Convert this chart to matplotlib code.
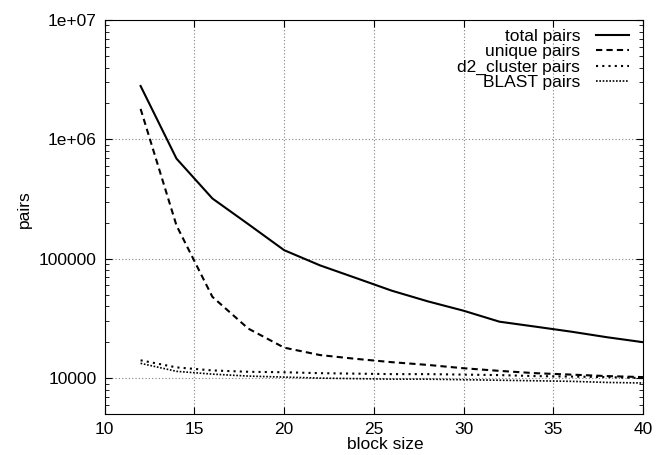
import matplotlib
matplotlib.use("Agg")
import matplotlib.pyplot as plt
from matplotlib.ticker import LogLocator, FixedLocator, NullFormatter

plt.rcParams['font.family'] = ['Liberation Sans', 'DejaVu Sans']
plt.rcParams['font.size'] = 12.5

block_size = [12, 14, 16, 18, 20, 22, 24, 26, 28, 30, 32, 34, 36, 38, 40]
total_pairs = [2.8e6, 6.9e5, 3.2e5, 1.95e5, 1.18e5, 8.8e4, 6.9e4, 5.4e4, 4.4e4,
               3.67e4, 2.97e4, 2.7e4, 2.45e4, 2.2e4, 2.0e4]
unique_pairs = [1.8e6, 1.9e5, 4.8e4, 2.6e4, 1.8e4, 1.56e4, 1.45e4, 1.36e4, 1.29e4,
                1.21e4, 1.15e4, 1.1e4, 1.07e4, 1.04e4, 1.02e4]
d2_pairs = [1.41e4, 1.23e4, 1.16e4, 1.13e4, 1.12e4, 1.1e4, 1.09e4, 1.08e4, 1.08e4,
            1.07e4, 1.06e4, 1.04e4, 1.03e4, 1.02e4, 1.0e4]
blast_pairs = [1.33e4, 1.14e4, 1.08e4, 1.04e4, 1.02e4, 1.0e4, 0.99e4, 0.98e4, 0.98e4,
               0.97e4, 0.96e4, 0.95e4, 0.94e4, 0.92e4, 0.91e4]

fig = plt.figure(figsize=(6.67, 4.55), dpi=100)
ax = fig.add_axes([0.157, 0.09, 0.807, 0.866])

ax.plot(block_size, total_pairs, color="black", lw=1.5, ls="-", label="total pairs")
ax.plot(block_size, unique_pairs, color="black", lw=1.5, ls=(0, (3, 2)), label="unique pairs")
ax.plot(block_size, d2_pairs, color="black", lw=1.5, ls=(0, (1, 2)), label="d2_cluster pairs")
ax.plot(block_size, blast_pairs, color="black", lw=1.2, ls=(0, (1, 1)), label="BLAST pairs")

ax.set_yscale("log")
ax.set_xlim(10, 40)
ax.set_ylim(5000, 1e7)
ax.set_xticks([10, 15, 20, 25, 30, 35, 40])
ax.yaxis.set_major_locator(FixedLocator([1e4, 1e5, 1e6, 1e7]))
ax.set_yticklabels(["10000", "100000", "1e+06", "1e+07"])
ax.yaxis.set_minor_locator(LogLocator(base=10, subs=range(2, 10)))
ax.yaxis.set_minor_formatter(NullFormatter())
ax.tick_params(which="both", direction="in", top=True, right=True, labelsize=12.5)
ax.tick_params(which="major", length=5, pad=6)
ax.tick_params(which="minor", length=3)
ax.grid(True, which="major", color="gray", ls=(0, (1, 2)), lw=0.8)

ax.set_xlabel("block size")
ax.xaxis.set_label_coords(0.522, -0.058)
ax.set_ylabel("pairs")
ax.yaxis.set_label_coords(-0.135, 0.52)

ax.legend(loc="upper right", bbox_to_anchor=(0.99, 1.0), frameon=False,
          markerfirst=False, handlelength=1.9, handletextpad=0.9,
          labelspacing=0.02, borderaxespad=0.1, fontsize=12.5)

fig.savefig("out.png", dpi=100)
